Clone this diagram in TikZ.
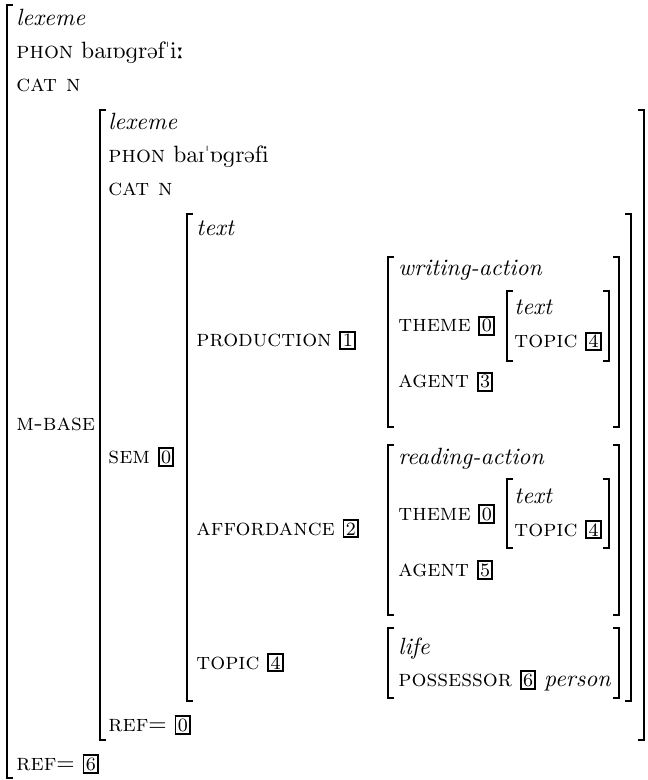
\documentclass[tikz,border=0pt]{standalone}
\usepackage{tipa}
\newcommand{\tagbox}[1]{{\setlength{\fboxrule}{0.8pt}\setlength{\fboxsep}{0.6pt}\fbox{\footnotesize #1}}}

\begin{document}
\begin{tikzpicture}[
    feat/.style={anchor=base west, inner sep=0pt},
    type/.style={feat, font=\itshape},
    brak/.style={line width=0.7pt},
    x=0.425pt, y=-0.425pt]

    \useasboundingbox (0,0) rectangle (647,780);

    % ----- outermost lexeme
    \node[type] (lexOut)  at (16, 26) {lexeme};
    \node[feat] (phonOut) at (16, 59) {\textsc{phon} \textipa{baI6gr@f"i:}};
    \node[feat] (catOut)  at (16, 92) {\textsc{cat n}};
    \node[feat] (mbase)   at (16, 430) {\textsc{m-base}};
    \node[feat] (refOut)  at (16, 770) {\textsc{ref}= \tagbox{6}};

    % ----- the base lexeme under M-BASE
    \node[type] (lexBase)  at (108, 130) {lexeme};
    \node[feat] (phonBase) at (108, 163) {\textsc{phon} \textipa{baI"6gr@fi}};
    \node[feat] (catBase)  at (108, 196) {\textsc{cat n}};
    \node[feat] (sem)      at (108, 463) {\textsc{sem} \tagbox{0}};
    \node[feat] (refBase)  at (108, 731) {\textsc{ref}= \tagbox{0}};

    % ----- SEM value
    \node[type] (semType) at (196, 236) {text};
    \node[feat] (prod)    at (196, 347) {\textsc{production} \tagbox{1}};
    \node[feat] (afford)  at (196, 535) {\textsc{affordance} \tagbox{2}};
    \node[feat] (topic)   at (196, 669) {\textsc{topic} \tagbox{4}};

    % ----- production: writing
    \node[type] (wType)  at (398, 276) {writing-action};
    \node[feat] (wTheme) at (398, 332) {\textsc{theme} \tagbox{0}};
    \node[type] (wText)  at (514, 315) {text};
    \node[feat] (wTopic) at (514, 348) {\textsc{topic} \tagbox{4}};
    \node[feat] (wAgent) at (398, 388) {\textsc{agent} \tagbox{3}};

    % ----- affordance: reading
    \node[type] (rType)  at (398, 464) {reading-action};
    \node[feat] (rTheme) at (398, 520) {\textsc{theme} \tagbox{0}};
    \node[type] (rText)  at (514, 503) {text};
    \node[feat] (rTopic) at (514, 536) {\textsc{topic} \tagbox{4}};
    \node[feat] (rAgent) at (398, 576) {\textsc{agent} \tagbox{5}};

    % ----- topic: life
    \node[type] (lifeType) at (398, 654) {life};
    \node[feat] (poss)     at (398, 686) {\textsc{possessor} \tagbox{6} \textit{person}};

    % ----- brackets, x/top/bottom
    \foreach \x/\t/\b in {7/5/778, 100/110/740, 187/214/701, 388/257/427,
                          507/291/361, 388/445/615, 507/479/548, 388/628/698} {
        \draw[brak] (\x+6,\t) -- (\x,\t) -- (\x,\b) -- (\x+6,\b);
    }
    \foreach \x/\t/\b in {644/110/740, 631/214/701, 619/257/427, 609/291/361,
                          619/445/615, 609/479/548, 619/628/698} {
        \draw[brak] (\x-6,\t) -- (\x,\t) -- (\x,\b) -- (\x-6,\b);
    }
\end{tikzpicture}
\end{document}
